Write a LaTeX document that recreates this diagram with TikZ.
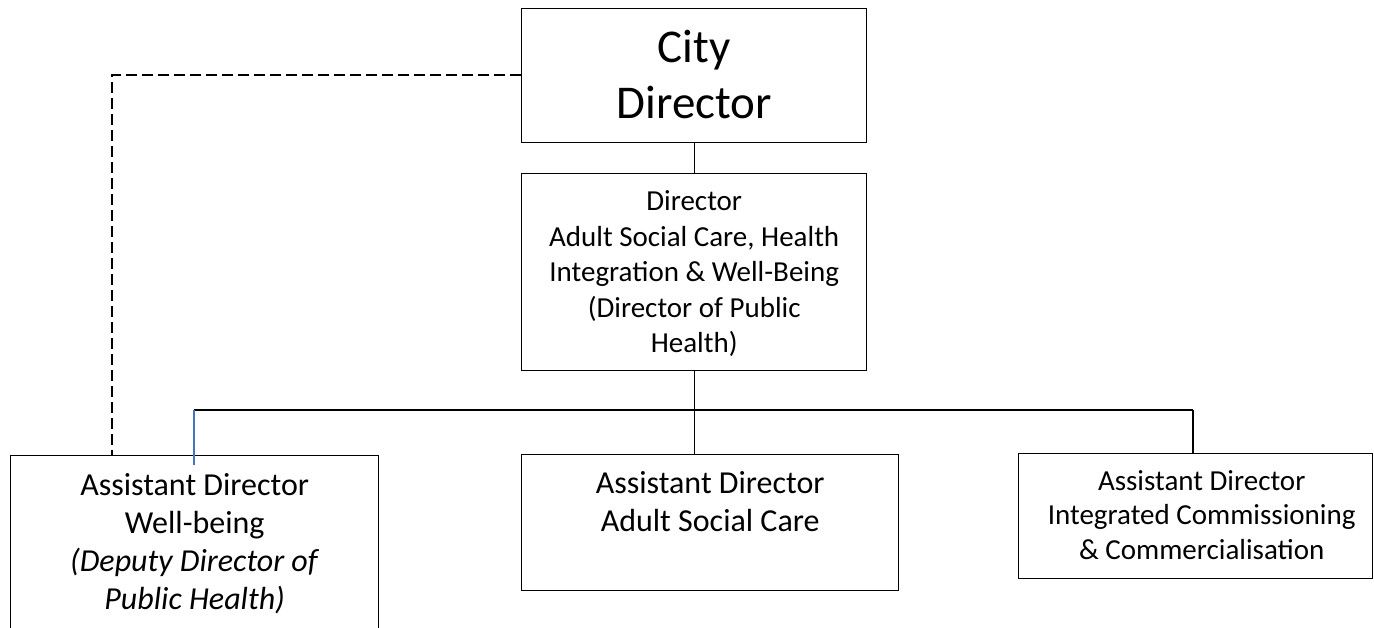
\documentclass[tikz,border=0pt]{standalone}
\usepackage{fontspec}
\setmainfont{Carlito}
\definecolor{wordblue}{HTML}{4472C4}
% #1 height, #2 width, #3 font size, #4 baselineskip, #5 top gap, #6 text
\newcommand\orgtext[6]{\parbox[c][#1][t]{#2}{\centering\fontsize{#3}{#4}\selectfont\vspace*{#5}\strut #6}}
\begin{document}
\begin{tikzpicture}[x=1pt,y=-1pt,
  orgbox/.style={draw=black, line width=1.4pt, inner sep=0pt, anchor=north west},
  link/.style={draw=black, line width=1.3pt},
  dotted link/.style={draw=black, line width=1.3pt, dash pattern=on 11pt off 5pt},
  blue link/.style={draw=wordblue, line width=1.3pt}]
\useasboundingbox (0,0) rectangle (1374,628);
\clip (0,0) rectangle (1374,628);

\node[orgbox] (city) at (521,8) {\orgtext{134pt}{345pt}{47pt}{56pt}{14.8pt}{City\\Director}};
\node[orgbox] (dir) at (521,173) {\orgtext{197pt}{345pt}{29pt}{35.5pt}{12.2pt}{Director\\Adult Social Care, Health\\Integration \& Well-Being\\(Director of Public\\Health)}};
\node[orgbox] (ad1) at (10,455) {\orgtext{185pt}{368pt}{32pt}{38pt}{13pt}{Assistant Director\\Well-being\\\textit{(Deputy Director of}\\\textit{Public Health)}}};
\node[orgbox] (ad2) at (521,454) {\orgtext{136pt}{377pt}{32pt}{38pt}{12.4pt}{Assistant Director\\Adult Social Care}};
\node[orgbox] (ad3) at (1018,452.5) {\orgtext{125.5pt}{354pt}{29pt}{34.5pt}{12.8pt}{\leftskip=12pt plus 1fil Assistant Director\\Integrated Commissioning\\\& Commercialisation}};

\coordinate (busL) at (194,410);
\coordinate (busR) at (1193,410);
\coordinate (dashcorner) at (112,75);
\coordinate (bluetip) at (194,465);

\draw[link] (city.south) -- (dir.north);
\draw[link] (dir.south) -- (dir.south |- ad2.north);
\draw[link] (busL) -- (busR);
\draw[link] (busR) -- (busR |- ad3.north);
\draw[blue link] (busL) -- (bluetip);
\draw[dotted link] (city.west |- dashcorner) -- (dashcorner) -- (dashcorner |- ad1.north);
\end{tikzpicture}
\end{document}
